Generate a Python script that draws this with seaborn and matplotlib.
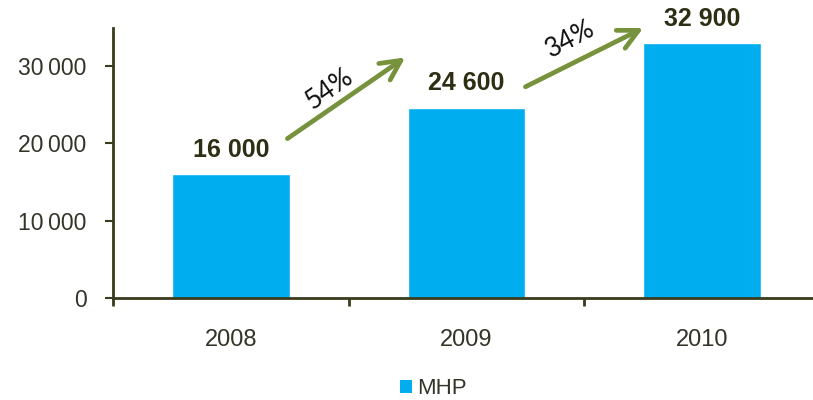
import matplotlib
matplotlib.use("Agg")
import matplotlib.pyplot as plt
import seaborn as sns
import pandas as pd
from matplotlib.patches import Patch
from matplotlib.ticker import FuncFormatter, FixedLocator

years = ["2008", "2009", "2010"]
values = [16000, 24600, 32900]
series_name = "MHP"
y_ticks = [0, 10000, 20000, 30000]

# growth arrows: (start_x, start_y, end_x, end_y) in data coords
arrows = [(0.24, 20600, 0.74, 31100), (1.25, 27300, 1.75, 34900)]
pct_pos = [(0.42, 27000, 35), (1.44, 33500, 28)]

sns.set_theme(style="white")
plt.rcParams['font.family'] = ['Liberation Sans', 'DejaVu Sans']

bar_color = "#00AEEF"
axis_color = "#3a3a1c"
text_color = "#333328"
label_color = "#2e2e14"
arrow_color = "#76923C"

df = pd.DataFrame({"year": years, "value": values})

fig = plt.figure(figsize=(8.13, 4.0), dpi=100)
ax = fig.add_axes([113 / 813, 1 - 298 / 400, 1 - 113 / 813, (298 - 28) / 400])

sns.barplot(data=df, x="year", y="value", color=bar_color, width=0.5,
            saturation=1, ax=ax)

ax.set_xlim(-0.5, 2.47)
ax.set_ylim(0, 34900)
ax.set_xlabel("")
ax.set_ylabel("")

for s in ["top", "right"]:
    ax.spines[s].set_visible(False)
for s in ["left", "bottom"]:
    ax.spines[s].set_color(axis_color)
    ax.spines[s].set_linewidth(2.0)

ax.yaxis.set_major_locator(FixedLocator(y_ticks))
ax.yaxis.set_major_formatter(FuncFormatter(lambda v, p: f"{int(v):,}".replace(",", "\u2009")))
ax.tick_params(axis="y", which="major", direction="out", length=6, width=1.5,
               color=axis_color, labelsize=16.5, labelcolor=text_color, pad=13, left=True)
ax.tick_params(axis="x", which="major", length=0, labelsize=17,
               labelcolor=text_color, pad=22)
ax.set_xticks([-0.5, 0.5, 1.5], minor=True)
ax.tick_params(axis="x", which="minor", direction="out", length=6, width=2,
               color=axis_color, bottom=True)

for i, v in enumerate(values):
    ax.annotate(f"{v:,}".replace(",", " "), xy=(i, v), xytext=(0, 9),
                textcoords="offset points", ha="center", va="bottom",
                fontsize=18, fontweight="bold", color=label_color)

for (x0, y0, x1, y1) in arrows:
    ax.annotate("", xy=(x1, y1), xytext=(x0, y0), annotation_clip=False,
                arrowprops=dict(arrowstyle="->,head_length=1.2,head_width=0.6",
                                mutation_scale=12,
                                color=arrow_color, lw=3.4, shrinkA=0, shrinkB=0),
                zorder=5)

for k, (px, py, rot) in enumerate(pct_pos):
    g = round((values[k + 1] / values[k] - 1) * 100)
    ax.text(px, py, f"{g}%", rotation=rot, ha="center", va="center",
            fontsize=19, color="#111111", family=["Lato", "DejaVu Sans"],
            rotation_mode="anchor", clip_on=False)

handle = Patch(facecolor=bar_color, edgecolor="none", label=series_name)
fig.legend(handles=[handle], loc="center", bbox_to_anchor=(0.533, 0.028),
           frameon=False, fontsize=16, handlelength=0.55, handleheight=0.55,
           handletextpad=0.25, labelcolor=text_color, borderpad=0.1)

fig.savefig("out.png", dpi=100, facecolor="white")
